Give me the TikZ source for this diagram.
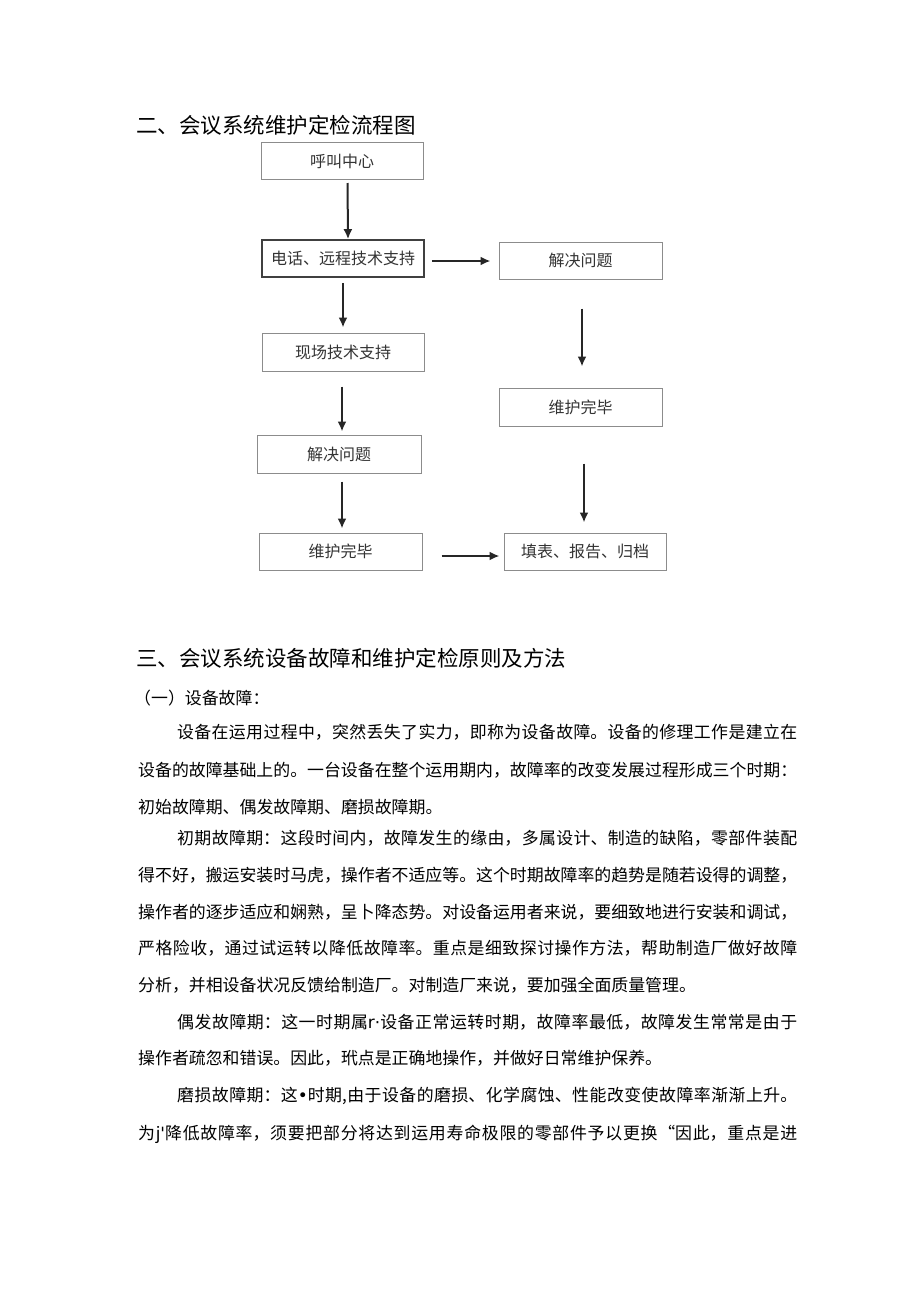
\documentclass[tikz,border=0pt]{standalone}
\usepackage{fontspec}
\setmainfont{Noto Sans CJK SC}
\newfontfamily\westfont{DejaVu Sans}
\usetikzlibrary{arrows.meta,positioning}
\XeTeXlinebreaklocale "zh"
\XeTeXlinebreakskip=0pt plus 2pt minus 0.5pt
\newcommand\nofillline{\parfillskip 0pt\relax}
\tikzset{
  box/.style={draw=black!45, line width=1pt, minimum width=162pt, minimum height=37pt,
    inner sep=0pt, font=\fontsize{16}{18}\selectfont, text=black!80},
  boxdark/.style={box, draw=black!75, line width=1.6pt},
  flow/.style={-{Latex[length=10pt,width=9pt]}, line width=2pt, draw=black!85},
  title/.style={anchor=base west, inner sep=0pt, font=\fontsize{21.5}{24}\selectfont},
  body/.style={anchor=base west, inner sep=0pt, font=\fontsize{16.9}{20}\selectfont},
  fullline/.style={body, text width=#1, align=justify, execute at begin node=\nofillline},
}
\begin{document}
\begin{tikzpicture}[x=1pt,y=-1pt]
  \useasboundingbox (0,0) rectangle (920,1301);
  % flow chart
  \node [title] (head2) at (136,133) {二、会议系统维护定检流程图};
  \node [box] (call) at (342,161) {呼叫中心};
  \node [boxdark] (remote) at (343,258.5) {电话、远程技术支持};
  \node [box, minimum width=163pt] (solveR) at (580.5,260.5) {解决问题};
  \node [box, minimum height=38pt] (onsite) at (343,352) {现场技术支持};
  \node [box, minimum width=163pt, minimum height=38pt] (doneR) at (580.5,407) {维护完毕};
  \node [box, minimum width=164pt, minimum height=38pt] (solveL) at (339,454) {解决问题};
  \node [box, minimum width=163pt] (doneL) at (340.5,551.5) {维护完毕};
  \node [box] (file) at (585,551.5) {填表、报告、归档};
  \draw [flow, shorten <=3pt] ([xshift=5.5pt]call.south) -- ([xshift=5pt]remote.north);
  \draw [flow, shorten <=5pt, shorten >=5pt] (remote.south) -- (onsite.north);
  \draw [flow, shorten <=7pt, shorten >=8pt] ([yshift=-2.5pt]remote.east) -- ([yshift=-0.5pt]solveR.west);
  \draw [flow, shorten <=29pt, shorten >=21pt] ([xshift=1.5pt]solveR.south) -- ([xshift=1.5pt]doneR.north);
  \draw [flow, shorten <=15pt, shorten >=3pt] ([xshift=-1pt]onsite.south) -- ([xshift=3pt]solveL.north);
  \draw [flow, shorten <=8pt, shorten >=4pt] ([xshift=3pt]solveL.south) -- ([xshift=1.5pt]doneL.north);
  \draw [flow, shorten <=37pt, shorten >=10pt] ([xshift=3.5pt]doneR.south) -- ([xshift=-1pt]file.north);
  \draw [flow, shorten <=19pt, shorten >=4pt] ([yshift=-4.5pt]doneL.east) -- ([yshift=-4.5pt]file.west);
  % text
  \node [title] (head3) at (136,666) {三、会议系统设备故障和维护定检原则及方法};
  \node [body] (sub1) at (134,704.4) {（一）设备故障：};
  \node [fullline=620pt] (p1a) at (177,738.4) {设备在运用过程中，突然丢失了实力，即称为设备故障。设备的修理工作是建立在};
  \node [fullline=659pt] (p1b) at (138,776.4) {设备的故障基础上的。一台设备在整个运用期内，故障率的改变发展过程形成三个时期：};
  \node [body] (p1c) at (138,813.4) {初始故障期、偶发故障期、磨损故障期。};
  \node [fullline=620pt] (p2a) at (177,844.4) {初期故障期：这段时间内，故障发生的缘由，多属设计、制造的缺陷，零部件装配};
  \node [fullline=659pt] (p2b) at (138,881.4) {得不好，搬运安装时马虎，操作者不适应等。这个时期故障率的趋势是随若设得的调整，};
  \node [fullline=659pt] (p2c) at (138,918.4) {操作者的逐步适应和娴熟，呈卜降态势。对设备运用者来说，要细致地进行安装和调试，};
  \node [fullline=659pt] (p2d) at (138,954.4) {严格险收，通过试运转以降低故障率。重点是细致探讨操作方法，帮助制造厂做好故障};
  \node [body] (p2e) at (138,991.4) {分析，并相设备状况反馈给制造厂。对制造厂来说，要加强全面质量管理。};
  \node [fullline=620pt] (p3a) at (177,1028.4) {偶发故障期：这一时期属{\westfont r·}设备正常运转时期，故障率最低，故障发生常常是由于};
  \node [body] (p3b) at (138,1064.4) {操作者疏忽和错误。因此，玳点是正确地操作，并做好日常维护保养。};
  \node [fullline=620pt] (p4a) at (177,1101.4) {磨损故障期：这{\westfont •}时期,由于设备的磨损、化学腐蚀、性能改变使故障率渐渐上升。};
  \node [fullline=659pt] (p4b) at (138,1139.4) {为j{\westfont\char39}降低故障率，须要把部分将达到运用寿命极限的零部件予以更换“因此，重点是进};
\end{tikzpicture}
\end{document}
